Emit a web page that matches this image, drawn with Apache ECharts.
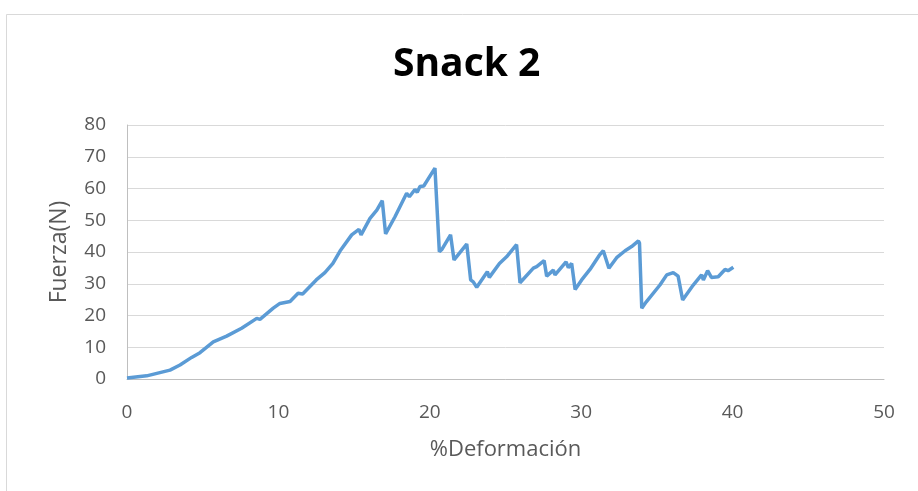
<!DOCTYPE html>
<html>
<head>
<meta charset="utf-8">
<script src="https://cdn.jsdelivr.net/npm/echarts@6/dist/echarts.min.js"></script>
<style>
html, body { margin: 0; padding: 0; background: #fff; }
#chart { width: 918px; height: 491px; }
</style>
</head>
<body>
<div id="chart"></div>
<script>
// datos
var deformacion = [0, 0.1, 1.3, 2.84, 3.5, 4.27, 4.82, 5.7, 6.58, 7.57, 8.57, 8.78, 9.66, 10.1, 10.77, 11.3, 11.6,
    12.5, 13.07, 13.6, 14.07, 14.84, 15.32, 15.46, 16.05, 16.5, 16.86, 17.08, 17.7, 18.47, 18.65, 19.02, 19.17,
    19.35, 19.6, 20.34, 20.4, 20.63, 20.8, 21.37, 21.6, 22.44, 22.55, 22.7, 22.87, 23.1, 23.8, 23.93, 24.6, 25.07,
    25.73, 25.96, 26.84, 27.06, 27.55, 27.72, 28.16, 28.27, 29.0, 29.15, 29.37, 29.6, 30.03, 30.58, 31.2, 31.46,
    31.83, 32.34, 32.9, 33.33, 33.78, 33.85, 34.0, 34.3, 35.2, 35.65, 36.08, 36.4, 36.7, 37.4, 37.95, 38.07,
    38.35, 38.6, 39.05, 39.5, 39.7, 40.05];
var fuerza = [0.3, 0.4, 1.0, 2.8, 4.4, 6.8, 8.3, 11.7, 13.5, 16.0, 19.1, 18.8, 22.3, 23.8, 24.4, 27.0, 26.8,
    31.2, 33.5, 36.4, 40.3, 45.4, 47.1, 45.4, 50.6, 53.2, 56.2, 45.7, 51.1, 58.5, 57.4, 59.7, 58.8,
    60.6, 60.8, 66.4, 66.0, 40.1, 40.8, 45.4, 37.5, 42.5, 42.0, 31.2, 30.6, 28.9, 33.8, 32.0, 36.4, 38.5,
    42.3, 30.3, 34.9, 35.4, 37.3, 32.4, 34.3, 32.8, 36.9, 35.1, 36.4, 28.2, 31.2, 34.5, 39.0, 40.4,
    34.9, 38.2, 40.4, 41.7, 43.5, 42.8, 22.3, 24.3, 29.6, 32.8, 33.5, 32.4, 24.9, 29.6, 32.8, 31.2,
    34.1, 32.0, 32.2, 34.5, 34.1, 35.2];
var ejeX = [0, 50];
var ejeY = [0, 80];

var puntos = deformacion.map(function (x, i) { return [x, fuerza[i]]; });

var myChart = echarts.init(document.getElementById('chart'));

var option = {
    backgroundColor: '#fff',
    title: {
        text: 'Snack 2',
        left: 388,
        top: 40,
        textStyle: {
            fontFamily: 'Open Sans',
            fontSize: 39,
            fontWeight: 'bold',
            color: '#000'
        }
    },
    grid: {
        left: 127,
        right: 34,
        top: 125,
        bottom: 112
    },
    xAxis: {
        type: 'value',
        min: ejeX[0],
        max: ejeX[1],
        interval: 10,
        name: '%Deformación',
        nameLocation: 'middle',
        nameGap: 60,
        nameTextStyle: { fontFamily: 'Open Sans', fontSize: 22, color: '#595959' },
        axisLine: { show: true, lineStyle: { color: '#bfbfbf', width: 1 } },
        axisTick: { show: false },
        axisLabel: { fontFamily: 'Open Sans', fontSize: 19, color: '#595959', margin: 24 },
        splitLine: { show: false }
    },
    yAxis: {
        type: 'value',
        min: ejeY[0],
        max: ejeY[1],
        interval: 10,
        name: 'Fuerza(N)',
        nameLocation: 'middle',
        nameGap: 56,
        nameTextStyle: { fontFamily: 'Open Sans', fontSize: 23, color: '#595959' },
        axisLine: { show: true, lineStyle: { color: '#bfbfbf', width: 1 } },
        axisTick: { show: false },
        axisLabel: { fontFamily: 'Open Sans', fontSize: 19, color: '#595959', margin: 21 },
        splitLine: { show: true, lineStyle: { color: '#d9d9d9', width: 1 } }
    },
    series: [{
        name: 'Snack 2',
        type: 'line',
        data: puntos,
        showSymbol: false,
        smooth: false,
        lineStyle: { color: '#5b9bd5', width: 3.5 },
        itemStyle: { color: '#5b9bd5' }
    }],
    graphic: [{
        type: 'rect',
        shape: { x: 6.5, y: 14.5, width: 940, height: 500 },
        style: { fill: 'none', stroke: '#d9d9d9', lineWidth: 1 },
        silent: true
    }]
};

myChart.setOption(option);
</script>
</body>
</html>
